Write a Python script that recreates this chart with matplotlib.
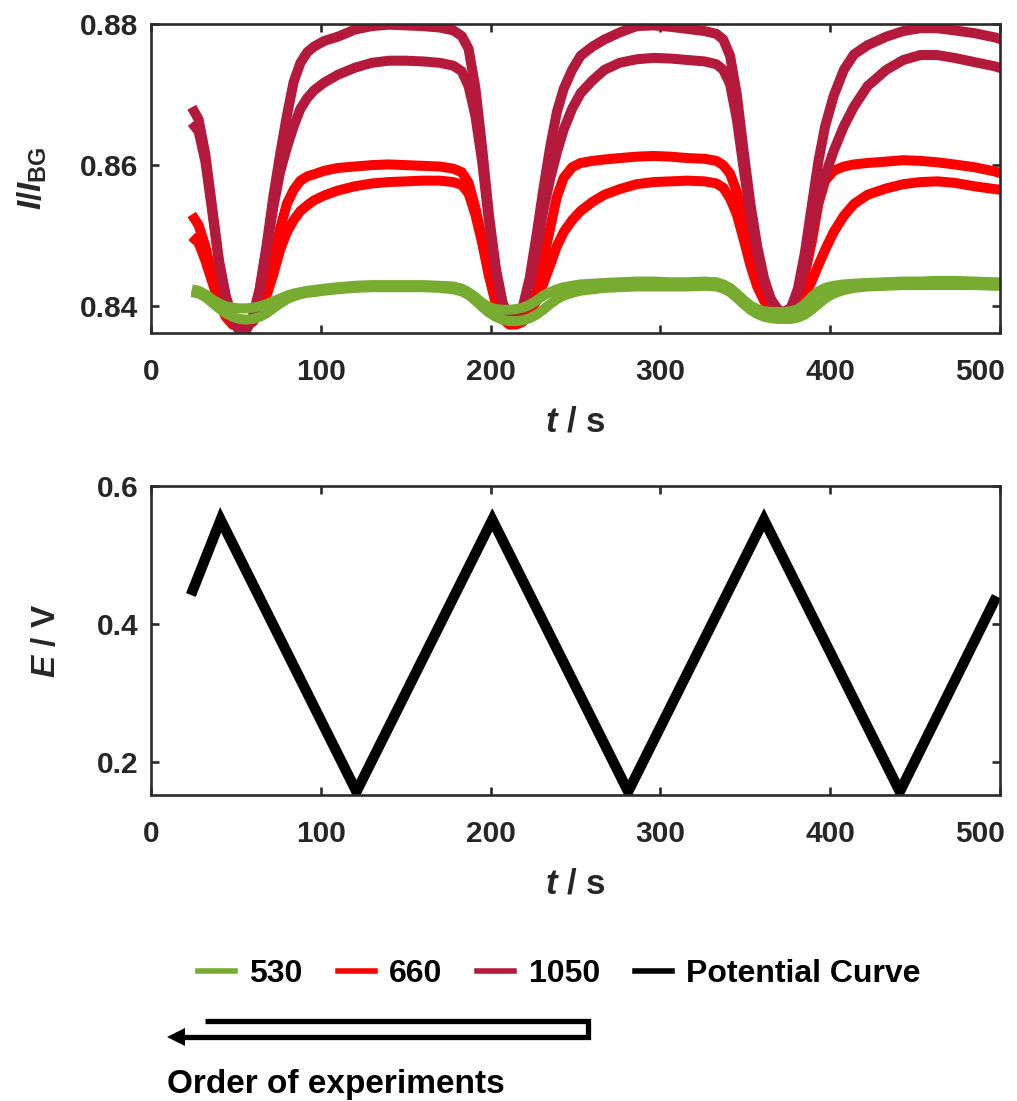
import matplotlib
matplotlib.use("Agg")
import matplotlib.pyplot as plt
import matplotlib.transforms as mtransforms
from matplotlib.lines import Line2D
from matplotlib.patches import Polygon

plt.rcParams['font.family'] = ['Liberation Sans', 'DejaVu Sans']
plt.rcParams['font.weight'] = 'bold'
plt.rcParams['mathtext.fontset'] = 'custom'
plt.rcParams['mathtext.it'] = 'Liberation Sans:italic:bold'
plt.rcParams['mathtext.rm'] = 'Liberation Sans:bold'
plt.rcParams['mathtext.bf'] = 'Liberation Sans:bold'

# ---------------- data ----------------
t_top = [24, 28, 32, 36, 40, 44, 48, 52, 56, 60, 64, 68, 72, 76, 80, 84, 88, 92, 96, 102,
         110, 120, 130, 140, 150, 160, 170, 178, 183, 187, 191, 195, 199, 203, 207, 211, 215, 219, 223, 227,
         231, 235, 239, 243, 248, 253, 260, 267, 276, 286, 296, 306, 316, 326, 333, 337, 341, 345, 349, 353,
         357, 361, 365, 369, 373, 377, 381, 385, 389, 393, 397, 402, 408, 414, 422, 433, 443, 453, 463, 473,
         485, 497, 501]

i1050_a = [0.8682, 0.8665, 0.8615, 0.854, 0.8465, 0.8415, 0.8382, 0.8365, 0.8366, 0.8385,
           0.8425, 0.8485, 0.8555, 0.8615, 0.867, 0.8718, 0.8745, 0.876, 0.8768, 0.8776,
           0.8782, 0.8792, 0.8797, 0.8799, 0.8798, 0.8797, 0.8795, 0.8791, 0.8783, 0.8765,
           0.871, 0.8625, 0.853, 0.8455, 0.8405, 0.8382, 0.8382, 0.840, 0.844, 0.850,
           0.8565, 0.8625, 0.8675, 0.8708, 0.8735, 0.8755, 0.8768, 0.8778, 0.8788, 0.8797,
           0.8798, 0.8796, 0.8793, 0.879, 0.8786, 0.8778, 0.8755, 0.870, 0.862, 0.8545,
           0.8485, 0.844, 0.841, 0.8395, 0.839, 0.8398, 0.8425, 0.8475, 0.854, 0.8605,
           0.8655, 0.8698, 0.8735, 0.8757, 0.877, 0.8782, 0.879, 0.8794, 0.8794, 0.8791,
           0.8787, 0.8781, 0.8778]

i1050_b = [0.866, 0.8648, 0.8605, 0.8535, 0.8462, 0.8413, 0.8381, 0.8365, 0.8366, 0.8385,
           0.8423, 0.848, 0.854, 0.859, 0.8625, 0.8655, 0.868, 0.8695, 0.8706, 0.8717,
           0.8728, 0.8738, 0.8745, 0.8748, 0.8748, 0.8747, 0.8745, 0.8741, 0.8733, 0.8712,
           0.867, 0.8605, 0.852, 0.845, 0.8405, 0.8383, 0.8383, 0.8398, 0.8432, 0.848,
           0.8535, 0.858, 0.8618, 0.865, 0.868, 0.8702, 0.872, 0.8735, 0.8745, 0.875,
           0.8752, 0.8751, 0.8749, 0.8747, 0.8743, 0.8735, 0.8715, 0.8665, 0.8595, 0.853,
           0.8475, 0.8435, 0.841, 0.8396, 0.8391, 0.8398, 0.842, 0.8458, 0.8505, 0.8548,
           0.8585, 0.862, 0.8655, 0.8683, 0.8712, 0.8735, 0.8749, 0.8756, 0.8756, 0.8752,
           0.8746, 0.874, 0.8737]

i660_a = [0.853, 0.8515, 0.8485, 0.8445, 0.841, 0.8388, 0.8376, 0.8373, 0.8374, 0.838,
          0.8398, 0.8425, 0.8465, 0.851, 0.8545, 0.8565, 0.8578, 0.8584, 0.8587, 0.8592,
          0.8596, 0.8598, 0.86, 0.8601, 0.86, 0.8599, 0.8598, 0.8595, 0.859, 0.8575,
          0.854, 0.8495, 0.8445, 0.8405, 0.8383, 0.8376, 0.8376, 0.8382, 0.8398, 0.8425,
          0.8465, 0.851, 0.8555, 0.8582, 0.8597, 0.8603, 0.8606, 0.8608, 0.861, 0.8612,
          0.8613, 0.8612, 0.861, 0.8609, 0.8606, 0.86, 0.8588, 0.8562, 0.8525, 0.848,
          0.844, 0.8412, 0.8397, 0.8392, 0.8392, 0.8398, 0.8415, 0.8445, 0.849, 0.8545,
          0.8578, 0.8592, 0.8598, 0.8601, 0.8603, 0.8605, 0.8607, 0.8606, 0.8604, 0.8601,
          0.8597, 0.8591, 0.8588]

i660_b = [0.8499, 0.849, 0.8465, 0.8435, 0.8405, 0.8385, 0.8374, 0.8371, 0.8372, 0.8378,
          0.8392, 0.8415, 0.8445, 0.848, 0.8505, 0.8522, 0.8535, 0.8543, 0.855, 0.8557,
          0.8564, 0.857, 0.8574, 0.8576, 0.8577, 0.8578, 0.8578, 0.8576, 0.8572, 0.856,
          0.853, 0.849, 0.8443, 0.8405, 0.8382, 0.8374, 0.8374, 0.8378, 0.839, 0.8408,
          0.8432, 0.8458, 0.8485, 0.8505, 0.8522, 0.8535, 0.8548, 0.8558, 0.8566, 0.8573,
          0.8576, 0.8577, 0.8578, 0.8577, 0.8574, 0.8568, 0.8553, 0.853, 0.8495, 0.8458,
          0.8428, 0.8408, 0.8393, 0.8386, 0.8385, 0.8388, 0.8398, 0.8415, 0.8435, 0.8458,
          0.848, 0.8505, 0.8528, 0.8545, 0.8558, 0.8567, 0.8573, 0.8576, 0.8577, 0.8575,
          0.857, 0.8566, 0.8565]

i530_a = [0.8424, 0.8422, 0.8417, 0.841, 0.8404, 0.84, 0.8398, 0.8397, 0.8397, 0.8398,
          0.84, 0.8403, 0.8407, 0.8411, 0.8415, 0.8418, 0.842, 0.8422, 0.8423, 0.8425,
          0.8427, 0.8429, 0.843, 0.843, 0.843, 0.843, 0.8429, 0.8428, 0.8425, 0.842,
          0.8413, 0.8405, 0.8399, 0.8396, 0.8395, 0.8395, 0.8396, 0.8398, 0.8402, 0.8408,
          0.8415, 0.842, 0.8424, 0.8427, 0.8429, 0.8431, 0.8432, 0.8433, 0.8434, 0.8435,
          0.8435, 0.8434, 0.8434, 0.8435, 0.8434, 0.8431, 0.8426, 0.8418, 0.8409, 0.8401,
          0.8396, 0.8393, 0.8392, 0.8392, 0.8392, 0.8393, 0.8396, 0.8403, 0.8413, 0.8421,
          0.8426, 0.8429, 0.8431, 0.8432, 0.8433, 0.8434, 0.8435, 0.8435, 0.8436, 0.8436,
          0.8435, 0.8434, 0.8434]

i530_b = [0.842, 0.8418, 0.8413, 0.8405, 0.8397, 0.839, 0.8385, 0.8382, 0.8381, 0.8382,
          0.8385, 0.839, 0.8397, 0.8404, 0.841, 0.8414, 0.8417, 0.8419, 0.842, 0.8422,
          0.8424, 0.8426, 0.8427, 0.8427, 0.8427, 0.8427, 0.8426, 0.8424, 0.8421, 0.8416,
          0.8408, 0.8399, 0.8391, 0.8385, 0.8381, 0.8379, 0.8379, 0.838, 0.8383, 0.8388,
          0.8395, 0.8403, 0.841, 0.8415, 0.8419, 0.8422, 0.8424, 0.8426, 0.8427, 0.8428,
          0.8428, 0.8428, 0.8428, 0.8429, 0.8428, 0.8425, 0.842, 0.8412, 0.8403, 0.8395,
          0.8389, 0.8385, 0.8383, 0.8382, 0.8382, 0.8382, 0.8384, 0.8388, 0.8395, 0.8403,
          0.8411, 0.8418, 0.8423, 0.8426, 0.8428, 0.8429, 0.843, 0.843, 0.843, 0.843,
          0.843, 0.8429, 0.8429]

t_pot = [23.5, 41, 121, 201, 281, 361, 441, 498]
e_pot = [0.442, 0.551, 0.157, 0.551, 0.157, 0.551, 0.157, 0.44]

xticks = [0, 100, 200, 300, 400, 500]
yticks_top = [0.84, 0.86, 0.88]
yticks_bot = [0.2, 0.4, 0.6]
legend_labels = ['530', '660', '1050', 'Potential Curve']

# ---------------- style ----------------
C_GREEN = '#77AC30'
C_RED = '#FF0000'
C_CRIMSON = '#B5193B'
C_SPINE = '#2b2b2b'
C_TEXT = '#262626'
LW = 7.2

fig = plt.figure(figsize=(10.17, 11.01), dpi=100)
ax1 = fig.add_axes([0.1485, 0.6975, 0.8348, 0.2807])
ax2 = fig.add_axes([0.1485, 0.2779, 0.8348, 0.2807])

for y in (i660_a, i660_b):
    ax1.plot(t_top, y, color=C_RED, lw=LW, solid_capstyle='butt', solid_joinstyle='round')
for y in (i1050_a, i1050_b):
    ax1.plot(t_top, y, color=C_CRIMSON, lw=LW, solid_capstyle='butt', solid_joinstyle='round')
for y in (i530_a, i530_b):
    ax1.plot(t_top, y, color=C_GREEN, lw=LW, solid_capstyle='butt', solid_joinstyle='round')

ax2.plot(t_pot, e_pot, color='black', lw=7.5, solid_capstyle='butt', solid_joinstyle='miter')

ax1.set_xlim(0, 500)
ax1.set_ylim(0.8362, 0.88)
ax2.set_xlim(0, 500)
ax2.set_ylim(0.152, 0.6)

ax1.set_yticks(yticks_top)
ax1.set_yticklabels([f'{v:.2f}' for v in yticks_top])
ax2.set_yticks(yticks_bot)
ax2.set_yticklabels([f'{v:.1f}' for v in yticks_bot])

shift = mtransforms.ScaledTranslation(5 / 100, 0, fig.dpi_scale_trans)
for ax in (ax1, ax2):
    ax.set_xticks(xticks)
    ax.set_xticklabels([str(v) for v in xticks])
    for s in ax.spines.values():
        s.set_linewidth(1.9)
        s.set_color(C_SPINE)
    ax.tick_params(direction='in', top=True, right=True, length=6, width=1.9,
                   color=C_SPINE, labelsize=21.5, labelcolor=C_TEXT)
    ax.tick_params(axis='x', pad=18)
    ax.tick_params(axis='y', pad=9)
    for lab in ax.get_xticklabels() + ax.get_yticklabels():
        lab.set_fontweight('bold')
    last = ax.get_xticklabels()[-1]
    last.set_horizontalalignment('right')
    last.set_transform(last.get_transform() + shift)
    ax.set_xlabel(r'$t$ / s', fontsize=25, fontweight='bold', color=C_TEXT)
    ax.xaxis.set_label_coords(0.5, -0.235)

ax1.set_ylabel(r'$I/I_{\mathrm{BG}}$', fontsize=24, fontweight='bold', color=C_TEXT)
ax1.yaxis.set_label_coords(-0.12, 0.5)
ax2.set_ylabel(r'$E$ / V', fontsize=24, fontweight='bold', color=C_TEXT)
ax2.yaxis.set_label_coords(-0.105, 0.5)

# legend
handles = [Line2D([], [], color=c, lw=4) for c in (C_GREEN, C_RED, C_CRIMSON, 'black')]
leg = fig.legend(handles, legend_labels, loc='center', bbox_to_anchor=(0.55, 0.1155),
                 ncol=4, frameon=False, fontsize=23, handlelength=1.15,
                 handletextpad=0.45, columnspacing=1.1)
for txt in leg.get_texts():
    txt.set_fontweight('bold')

# order-of-experiments arrow
ya, yb = 1 - 1020.7 / 1101, 1 - 1037 / 1101
xl, xr, xtip = 205 / 1017, 588 / 1017, 167 / 1017
fig.add_artist(Line2D([xl, xr, xr, xtip + 0.012], [ya, ya, yb, yb], transform=fig.transFigure,
                      color='black', lw=3.8, solid_joinstyle='miter', solid_capstyle='butt'))
fig.add_artist(Polygon([[xtip, yb], [xtip + 18 / 1017, yb + 9 / 1101], [xtip + 18 / 1017, yb - 9 / 1101]],
                       closed=True, transform=fig.transFigure, color='black', lw=0))
fig.text(xtip, 1 - 1093 / 1101, 'Order of experiments', fontsize=24, fontweight='bold',
         ha='left', va='baseline', color='black')

fig.savefig('out.png', dpi=100)
